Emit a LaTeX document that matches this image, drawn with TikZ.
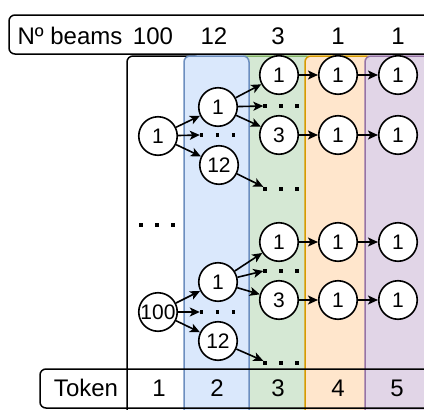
\documentclass[tikz,border=0pt]{standalone}
\usepackage{fontspec}
\setmainfont{Liberation Sans}
\usetikzlibrary{arrows.meta}
\definecolor{bluef}{HTML}{DAE8FC}\definecolor{blued}{HTML}{6C8EBF}
\definecolor{greenf}{HTML}{D5E8D4}\definecolor{greend}{HTML}{82B366}
\definecolor{orangef}{HTML}{FFE6CC}\definecolor{oranged}{HTML}{D79B00}
\definecolor{purplef}{HTML}{E1D5E7}\definecolor{purpled}{HTML}{9673A6}
\begin{document}
\begin{tikzpicture}[x=1pt,y=-1pt,
  colbox/.style={line width=1.5pt, rounded corners=6pt},
  circ/.style={circle, draw, line width=1.6pt, fill=white, minimum size=38.5pt, inner sep=0pt, font=\fontsize{21}{21}\selectfont},
  hdr/.style={font=\fontsize{24}{24}\selectfont, inner sep=0pt, anchor=base},
  arr/.style={line width=1.6pt, -{Stealth[length=10pt,width=9pt,inset=2.5pt]}},
  dotrow/.style={minimum width=36pt, minimum height=4pt, inner sep=0pt,
    append after command={(\tikzlastnode.west) edge[-, line width=3.6pt, dash pattern=on 3.6pt off 12.4pt] (\tikzlastnode.east)}}
]
\useasboundingbox (0,0) rectangle (424,410);
% columns
\draw[colbox, fill=white, draw=black] (127,56) rectangle (200,425);
\draw[colbox, fill=greenf, draw=greend] (240,56) rectangle (312,425);
\draw[colbox, fill=bluef, draw=blued] (184,56) rectangle (249,425);
\draw[colbox, fill=orangef, draw=oranged] (305,56) rectangle (372,425);
\draw[colbox, fill=purplef, draw=purpled] (365,56) rectangle (440,425);
% header and token rows
\draw[colbox, fill=white] (9,15) rectangle (440,54);
\draw[colbox] (40,369) rectangle (440,408);
\node[hdr] (hb) at (70,44) {Nº beams};
\node[hdr] (h1) at (153,44) {100};
\node[hdr] (h2) at (214,44) {12};
\node[hdr] (h3) at (278,44) {3};
\node[hdr] (h4) at (338,44) {1};
\node[hdr] (h5) at (398,44) {1};
\node[hdr] (tk) at (86,396) {Token};
\node[hdr] (t1) at (159,396) {1};
\node[hdr] (t2) at (217,396) {2};
\node[hdr] (t3) at (278,396) {3};
\node[hdr] (t4) at (338,396) {4};
\node[hdr] (t5) at (397,396) {5};
% upper group
\node[circ] (a1) at (158,136) {1};
\node[circ] (b1) at (218,107) {1};
\node[dotrow] (bd) at (218,135) {};
\node[circ] (b2) at (219,165) {12};
\node[circ] (c1) at (279,75) {1};
\node[dotrow] (cd) at (281.5,106) {};
\node[circ] (c2) at (279,135) {3};
\node[dotrow] (ce) at (281.5,189) {};
\node[circ] (d1) at (338,75) {1};
\node[circ] (d2) at (338,135) {1};
\node[circ] (e1) at (398,75) {1};
\node[circ] (e2) at (398,135) {1};
\draw[arr] (a1) -- (b1);
\draw[arr] (a1) -- (bd.west);
\draw[arr] (a1) -- (b2);
\draw[arr] (b1) -- (c1);
\draw[arr] (b1) -- (cd.west);
\draw[arr] (b1) -- (c2);
\draw[arr] (b2) -- (ce.north west);
\draw[arr] (c1) -- (d1);
\draw[arr] (d1) -- (e1);
\draw[arr] (c2) -- (d2);
\draw[arr] (d2) -- (e2);
% middle dots
\node[dotrow] (md) at (157.5,225) {};
% lower group
\node[circ] (A1) at (158,312) {100};
\node[circ] (B1) at (218,282) {1};
\node[dotrow] (BD) at (218,312) {};
\node[circ] (B2) at (218,341) {12};
\node[circ] (C1) at (279,242) {1};
\node[dotrow] (CD) at (281.5,271) {};
\node[circ] (C2) at (279,300) {3};
\node[dotrow] (CE) at (281.5,363) {};
\node[circ] (D1) at (338,242) {1};
\node[circ] (D2) at (338,300) {1};
\node[circ] (E1) at (398,242) {1};
\node[circ] (E2) at (398,300) {1};
\draw[arr] (A1) -- (B1);
\draw[arr] (A1) -- (BD.west);
\draw[arr] (A1) -- (B2);
\draw[arr] (B1) -- (C1);
\draw[arr] (B1) -- (CD.west);
\draw[arr] (B1) -- (C2);
\draw[arr] (B2) -- (CE.north west);
\draw[arr] (C1) -- (D1);
\draw[arr] (D1) -- (E1);
\draw[arr] (C2) -- (D2);
\draw[arr] (D2) -- (E2);
\end{tikzpicture}
\end{document}
